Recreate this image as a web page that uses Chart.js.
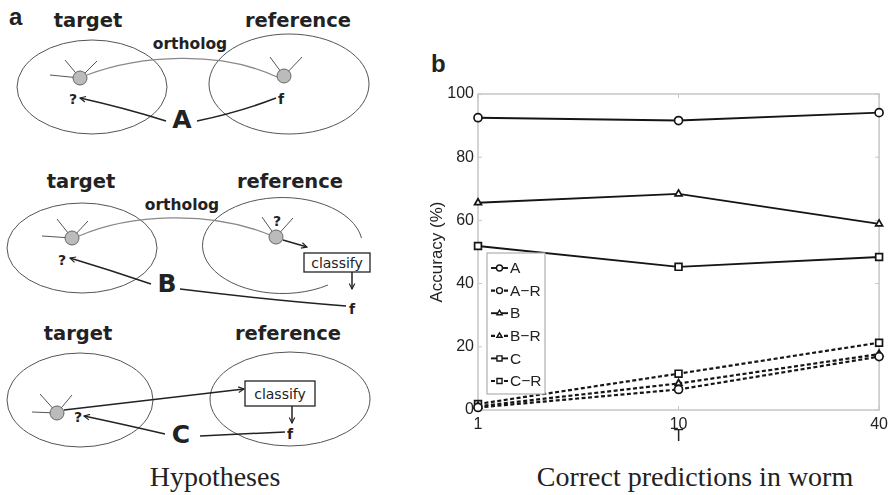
<!DOCTYPE html>
<html>
<head>
<meta charset="utf-8">
<script src="https://cdn.jsdelivr.net/npm/chart.js@4"></script>
<style>
  html, body { margin: 0; padding: 0; background: #fff; }
  #page { position: relative; width: 893px; height: 495px; overflow: hidden; }
  #sketch { position: absolute; left: 0; top: 0; }
  #plot { position: absolute; left: 400px; top: 50px; width: 493px; height: 400px; }
  .hd { font-family: "DejaVu Sans", sans-serif; font-weight: bold; fill: #222; }
  .cap { font-family: "Liberation Serif", "Times New Roman", serif; fill: #222; }
</style>
</head>
<body>
<div id="page">
  <!-- panel a: hypothesis sketches, panel captions -->
  <svg id="sketch" width="893" height="495" viewBox="0 0 893 495">
    <defs>
      <marker id="head" viewBox="0 0 10 10" refX="9" refY="5" markerWidth="7" markerHeight="7" orient="auto-start-reverse" markerUnits="userSpaceOnUse">
        <path d="M1,1 L9,5 L1,9" fill="none" stroke="#222" stroke-width="1.6"/>
      </marker>
    </defs>

    <text x="9" y="25" style="font-family:'Liberation Sans',Arial,sans-serif;font-weight:bold;font-size:24px;fill:#222">a</text>
    <text x="431" y="72" style="font-family:'Liberation Sans',Arial,sans-serif;font-weight:bold;font-size:24px;fill:#222">b</text>

    <!-- A -->
    <text class="hd" x="88" y="27" text-anchor="middle" font-size="19.5">target</text>
    <text class="hd" x="298" y="27" text-anchor="middle" font-size="19.5">reference</text>
    <ellipse cx="92" cy="87" rx="75" ry="47" fill="none" stroke="#555" stroke-width="1"/>
    <ellipse cx="289" cy="84" rx="80" ry="50" fill="none" stroke="#555" stroke-width="1"/>
    <text class="hd" x="190" y="49" text-anchor="middle" font-size="15.5">ortholog</text>
    <path d="M87,75 C140,55 220,50 277,77" fill="none" stroke="#888" stroke-width="1.3"/>
    <g stroke="#555" stroke-width="1">
      <line x1="80" y1="78" x2="50" y2="75"/><line x1="80" y1="78" x2="65" y2="60"/><line x1="80" y1="78" x2="97" y2="61"/>
      <line x1="284" y1="76" x2="270" y2="57"/><line x1="284" y1="76" x2="302" y2="57"/>
    </g>
    <circle cx="80" cy="78" r="7" fill="#bbb" stroke="#666"/>
    <circle cx="284" cy="76" r="7" fill="#bbb" stroke="#666"/>
    <text class="hd" x="73" y="104" text-anchor="middle" font-size="14">?</text>
    <text class="hd" x="281" y="104" text-anchor="middle" font-size="14">f</text>
    <text class="hd" x="182" y="128" text-anchor="middle" font-size="25">A</text>
    <path d="M166,121 Q125,108 80,98" fill="none" stroke="#222" stroke-width="1.5" marker-end="url(#head)"/>
    <path d="M197,121 Q240,112 276,98" fill="none" stroke="#222" stroke-width="1.5"/>

    <!-- B -->
    <text class="hd" x="81" y="188" text-anchor="middle" font-size="19.5">target</text>
    <text class="hd" x="290" y="188" text-anchor="middle" font-size="19.5">reference</text>
    <ellipse cx="82" cy="248" rx="75" ry="45" fill="none" stroke="#555" stroke-width="1"/>
    <path d="M361.5,238 A80,48 0 1 0 328,285" fill="none" stroke="#555" stroke-width="1"/>
    <text class="hd" x="182" y="210" text-anchor="middle" font-size="15.5">ortholog</text>
    <path d="M79,236 C130,214 210,210 270,235" fill="none" stroke="#888" stroke-width="1.3"/>
    <g stroke="#555" stroke-width="1">
      <line x1="72" y1="238" x2="42" y2="236"/><line x1="72" y1="238" x2="57" y2="219"/><line x1="72" y1="238" x2="88" y2="221"/>
      <line x1="276" y1="237" x2="262" y2="217"/><line x1="276" y1="237" x2="293" y2="218"/>
    </g>
    <circle cx="72" cy="238" r="7" fill="#bbb" stroke="#666"/>
    <circle cx="276" cy="237" r="7" fill="#bbb" stroke="#666"/>
    <text class="hd" x="277" y="226" text-anchor="middle" font-size="14">?</text>
    <path d="M283,240 L307,247" fill="none" stroke="#222" stroke-width="1.5" marker-end="url(#head)"/>
    <rect x="304" y="253" width="66" height="19" fill="#fff" stroke="#222" stroke-width="1.3"/>
    <text x="337" y="267.5" text-anchor="middle" style="font-family:'DejaVu Sans',sans-serif;font-size:14px;fill:#222">classify</text>
    <path d="M352,272 L352,289" fill="none" stroke="#222" stroke-width="1.5" marker-end="url(#head)"/>
    <text class="hd" x="352" y="314" text-anchor="middle" font-size="14">f</text>
    <text class="hd" x="62" y="265" text-anchor="middle" font-size="14">?</text>
    <text class="hd" x="167" y="292" text-anchor="middle" font-size="25">B</text>
    <path d="M151,284 Q110,270 70,258" fill="none" stroke="#222" stroke-width="1.5" marker-end="url(#head)"/>
    <path d="M180,289 Q270,300 346,306" fill="none" stroke="#222" stroke-width="1.5"/>

    <!-- C -->
    <text class="hd" x="78" y="340" text-anchor="middle" font-size="19.5">target</text>
    <text class="hd" x="288" y="340" text-anchor="middle" font-size="19.5">reference</text>
    <ellipse cx="80" cy="400" rx="73" ry="47" fill="none" stroke="#555" stroke-width="1"/>
    <ellipse cx="290" cy="399" rx="80" ry="47" fill="none" stroke="#555" stroke-width="1"/>
    <g stroke="#555" stroke-width="1">
      <line x1="57" y1="413" x2="40" y2="394"/><line x1="57" y1="413" x2="72" y2="395"/><line x1="57" y1="413" x2="32" y2="412"/>
    </g>
    <circle cx="57" cy="413" r="7" fill="#bbb" stroke="#666"/>
    <path d="M64,410 L244,389" fill="none" stroke="#222" stroke-width="1.5" marker-end="url(#head)"/>
    <rect x="245" y="381" width="70" height="25" fill="#fff" stroke="#222" stroke-width="1.3"/>
    <text x="280" y="398.5" text-anchor="middle" style="font-family:'DejaVu Sans',sans-serif;font-size:14px;fill:#222">classify</text>
    <path d="M292,406 L292,423" fill="none" stroke="#222" stroke-width="1.5" marker-end="url(#head)"/>
    <text class="hd" x="290" y="439" text-anchor="middle" font-size="14">f</text>
    <text class="hd" x="78" y="422" text-anchor="middle" font-size="14">?</text>
    <text class="hd" x="181" y="443" text-anchor="middle" font-size="25">C</text>
    <path d="M165,434 Q122,424 84,416" fill="none" stroke="#222" stroke-width="1.5" marker-end="url(#head)"/>
    <path d="M200,436 L285,432" fill="none" stroke="#222" stroke-width="1.5"/>

    <text class="cap" x="215" y="486" text-anchor="middle" font-size="28">Hypotheses</text>
    <text class="cap" x="695" y="486" text-anchor="middle" font-size="28">Correct predictions in worm</text>
  </svg>

  <div id="plot"><canvas id="accChart"></canvas></div>
</div>

<script>
// T values on the x axis and accuracy (%) per hypothesis
const tLabels = ['1', '10', '40'];
const seriesNames = ['A', 'A\u2212R', 'B', 'B\u2212R', 'C', 'C\u2212R'];
const accA  = [92.5, 91.6, 94.1];
const accAR = [0.8, 6.5, 16.9];
const accB  = [65.6, 68.4, 58.9];
const accBR = [1.2, 8.4, 17.7];
const accC  = [51.9, 45.3, 48.4];
const accCR = [1.9, 11.5, 21.3];
const yTicks = [0, 20, 40, 60, 80, 100];

const seriesData = [accA, accAR, accB, accBR, accC, accCR];
const markers = ['circle', 'circle', 'triangle', 'triangle', 'rect', 'rect'];

const datasets = seriesData.map((vals, i) => {
  const random = i % 2 === 1;   // the "-R" baselines are dashed
  return {
    label: seriesNames[i],
    data: vals,
    borderColor: '#151515',
    borderWidth: random ? 2.2 : 1.9,
    borderDash: random ? [4, 2.5] : [],
    pointStyle: markers[i],
    pointRadius: markers[i] === 'rect' ? 4.8 : 4,
    pointBorderWidth: 1.7,
    pointBorderColor: '#151515',
    pointBackgroundColor: '#fff',
    tension: 0,
    clip: false
  };
});

// grey box round the plot with matlab-style inward ticks
const frame = {
  id: 'frame',
  beforeDatasetsDraw(chart) {
    const { ctx, chartArea: a, scales: { x, y } } = chart;
    ctx.save();
    ctx.strokeStyle = '#c6c6c6';
    ctx.lineWidth = 1.5;
    ctx.strokeRect(a.left, a.top, a.right - a.left, a.bottom - a.top);
    ctx.lineWidth = 1;
    ctx.beginPath();
    y.ticks.forEach((t, i) => {
      const py = y.getPixelForTick(i);
      ctx.moveTo(a.left, py); ctx.lineTo(a.left + 4, py);
      ctx.moveTo(a.right - 4, py); ctx.lineTo(a.right, py);
    });
    x.ticks.forEach((t, i) => {
      const px = x.getPixelForTick(i);
      ctx.moveTo(px, a.bottom); ctx.lineTo(px, a.bottom - 4);
      ctx.moveTo(px, a.top); ctx.lineTo(px, a.top + 4);
    });
    ctx.stroke();
    ctx.restore();
  }
};

// legend boxed inside the plot, lower left
const insideLegend = {
  id: 'insideLegend',
  afterDatasetsDraw(chart) {
    const { ctx, chartArea: a } = chart;
    const left = a.left + 9, top = a.top + 159, w = 58, h = 141;
    ctx.save();
    ctx.fillStyle = '#fff';
    ctx.fillRect(left, top, w, h);
    ctx.strokeStyle = '#b0b0b0';
    ctx.lineWidth = 1.2;
    ctx.strokeRect(left, top, w, h);
    ctx.font = '15.5px "Liberation Sans", Arial, sans-serif';
    ctx.textBaseline = 'middle';
    chart.data.datasets.forEach((ds, i) => {
      const cy = top + 15 + i * 22.6;
      const cx = left + 12.5;
      ctx.strokeStyle = ds.borderColor;
      ctx.lineWidth = ds.borderWidth;
      ctx.setLineDash(ds.borderDash);
      ctx.beginPath();
      ctx.moveTo(left + 4, cy);
      ctx.lineTo(left + 21, cy);
      ctx.stroke();
      ctx.setLineDash([]);
      ctx.fillStyle = '#fff';
      ctx.lineWidth = 1.4;
      Chart.helpers.drawPoint(ctx, {
        pointStyle: ds.pointStyle,
        radius: ds.pointStyle === 'rect' ? 3.6 : 3,
        rotation: 0,
        borderWidth: 1.4
      }, cx, cy);
      ctx.fillStyle = '#222';
      ctx.fillText(ds.label, left + 23, cy + 1);
    });
    ctx.restore();
  }
};

new Chart(document.getElementById('accChart').getContext('2d'), {
  type: 'line',
  data: { labels: tLabels, datasets },
  options: {
    responsive: true,
    maintainAspectRatio: false,
    animation: false,
    layout: { padding: { top: 44, right: 13, left: 0, bottom: 0 } },
    plugins: {
      legend: { display: false },
      tooltip: { enabled: false }
    },
    scales: {
      x: {
        type: 'category',
        offset: false,
        grid: { display: false, drawTicks: false },
        border: { display: false },
        ticks: {
          padding: 5,
          color: '#222',
          maxRotation: 0,
          font: { family: '"Liberation Sans", Arial, sans-serif', size: 16 }
        },
        title: {
          display: true,
          text: 'T',
          color: '#222',
          padding: { top: 0, bottom: 4 },
          font: { family: '"Liberation Sans", Arial, sans-serif', size: 16 }
        },
        afterFit: (axis) => { axis.height = 40; }
      },
      y: {
        min: 0,
        max: 100,
        grid: { display: false, drawTicks: false },
        border: { display: false },
        afterBuildTicks: (axis) => { axis.ticks = yTicks.map(v => ({ value: v })); },
        ticks: {
          padding: 4,
          color: '#222',
          font: { family: '"Liberation Sans", Arial, sans-serif', size: 16 }
        },
        title: {
          display: true,
          text: 'Accuracy (%)',
          color: '#222',
          padding: { top: 27, bottom: 0 },
          font: { family: '"Liberation Sans", Arial, sans-serif', size: 17 }
        },
        afterFit: (axis) => { axis.width = 78; }
      }
    }
  },
  plugins: [frame, insideLegend]
});
</script>
</body>
</html>
